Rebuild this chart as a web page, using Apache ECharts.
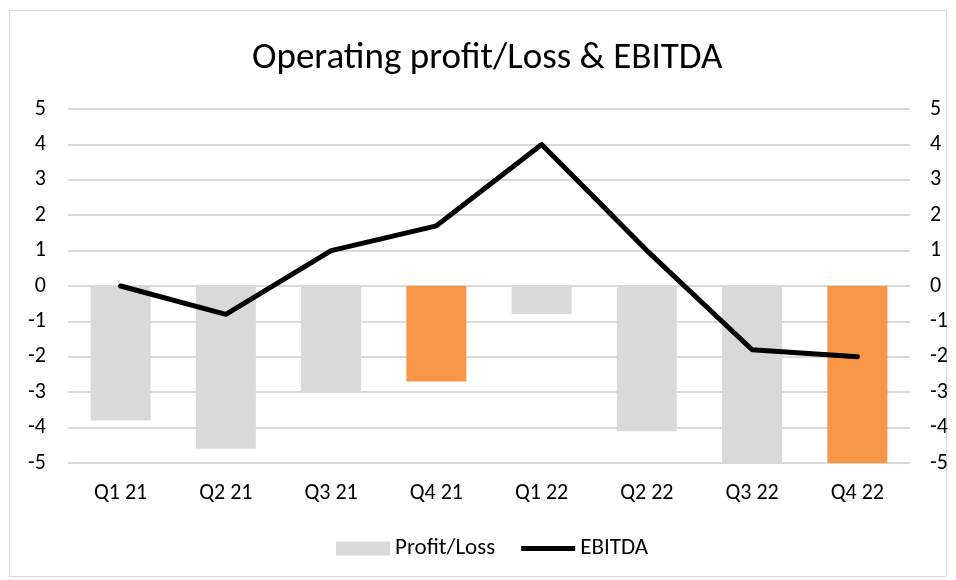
<!DOCTYPE html>
<html>
<head>
<meta charset="utf-8">
<script src="https://cdn.jsdelivr.net/npm/echarts@6/dist/echarts.min.js"></script>
<style>
html,body{margin:0;padding:0;background:#fff;}
#frame{position:absolute;left:9px;top:10px;width:938px;height:567px;border:1px solid #d9d9d9;box-sizing:border-box;}
#chart{position:absolute;left:0;top:0;width:956px;height:580px;}
</style>
</head>
<body>
<div id="frame"></div>
<div id="chart"></div>
<script>
const categories = ['Q1 21','Q2 21','Q3 21','Q4 21','Q1 22','Q2 22','Q3 22','Q4 22'];
const profitLoss = [-3.8, -4.6, -3.0, -2.7, -0.8, -4.1, -5.0, -5.0];
const ebitda = [0, -0.8, 1.0, 1.7, 4.0, 1.0, -1.8, -2.0];
const highlighted = ['Q4 21', 'Q4 22'];

const font = 'Calibri, Carlito, Lato, "Open Sans", "Liberation Sans", sans-serif';
const chart = echarts.init(document.getElementById('chart'), null, {renderer: 'canvas'});
const barData = profitLoss.map((v, i) => ({
  value: v,
  itemStyle: {color: highlighted.includes(categories[i]) ? '#F79646' : '#D9D9D9'}
}));
const yAxisCommon = {
  type: 'value', min: -5, max: 5, interval: 1,
  axisLine: {show: false}, axisTick: {show: false},
  axisLabel: {color: '#000', fontSize: 22, fontFamily: font}
};
chart.setOption({
  animation: false,
  title: {
    text: 'Operating profit/Loss & EBITDA', left: 247, top: 35,
    textStyle: {fontSize: 37, fontWeight: 'normal', color: '#000', fontFamily: font}
  },
  legend: {
    bottom: 15, left: 331, itemGap: 26,
    textStyle: {fontSize: 23, color: '#000', fontFamily: font},
    data: [
      {name: 'Profit/Loss', icon: 'rect', itemStyle: {color: '#D9D9D9'}},
      {name: 'EBITDA', icon: 'path://M0,0 H56 V5 H0 Z', itemStyle: {color: '#000'}}
    ],
    itemWidth: 54, itemHeight: 14
  },
  grid: {left: 68, right: 46, top: 109, bottom: 117, containLabel: false},
  xAxis: {
    type: 'category', data: categories,
    axisLine: {show: false}, axisTick: {show: false},
    axisLabel: {color: '#000', fontSize: 22, fontFamily: font, margin: 19}
  },
  yAxis: [
    Object.assign({}, yAxisCommon, {
      position: 'left', splitLine: {lineStyle: {color: '#D9D9D9', width: 2}},
      axisLabel: Object.assign({}, yAxisCommon.axisLabel, {margin: 22})
    }),
    Object.assign({}, yAxisCommon, {
      position: 'right', splitLine: {show: false},
      axisLabel: Object.assign({}, yAxisCommon.axisLabel, {margin: 20})
    })
  ],
  series: [
    {
      name: 'Profit/Loss', type: 'bar', data: barData, barWidth: '57%',
      itemStyle: {color: '#D9D9D9'}
    },
    {
      name: 'EBITDA', type: 'line', yAxisIndex: 1, data: ebitda,
      symbol: 'none', lineStyle: {color: '#000', width: 5, cap: 'round', join: 'round'},
      itemStyle: {color: '#000'}
    }
  ]
});
</script>
</body>
</html>
